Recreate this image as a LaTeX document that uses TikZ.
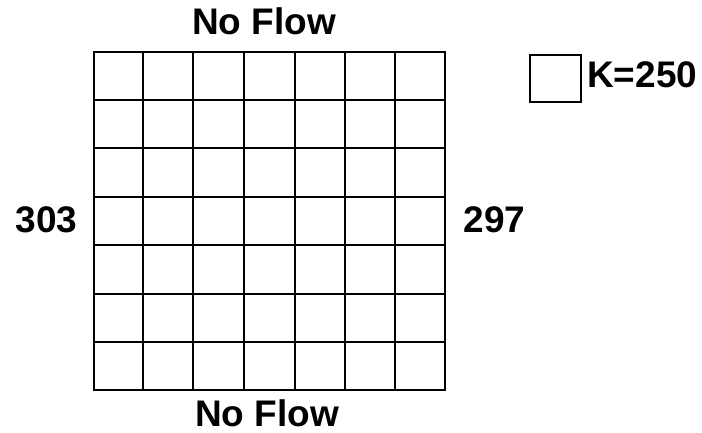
\documentclass[tikz,border=0pt]{standalone}
\usepackage{fontspec}
\setmainfont{Liberation Sans}
\usetikzlibrary{positioning, calc}

\begin{document}
\begin{tikzpicture}[x=1pt, y=1pt,
    lbl/.style={font=\fontsize{37}{40}\selectfont\bfseries, inner sep=0pt, anchor=base},
    cellline/.style={line width=2pt, black}
]
\useasboundingbox (0,0) rectangle (702,432);

% Domain (7 x 7 cells)
\node[draw, cellline, minimum width=351.5pt, minimum height=338pt, inner sep=0pt] (domain) at (269.25,211) {};
\foreach \i in {1,...,6} {
    \draw[cellline] ($(domain.north west)!\i/7!(domain.north east)$) -- ($(domain.south west)!\i/7!(domain.south east)$);
    \draw[cellline] ($(domain.north west)!\i/7!(domain.south west)$) -- ($(domain.north east)!\i/7!(domain.south east)$);
}

% Boundary labels
\node[lbl] (top) at (264,397) {No Flow};
\node[lbl] (bottom) at (267,5.5) {No Flow};
\node[lbl] (left) at (46.5,200) {303};
\node[lbl] (right) at (494.5,200) {297};

% Legend
\node[draw, line width=1.6pt, minimum width=51pt, minimum height=47pt, inner sep=0pt] (kbox) at (555.5,353.5) {};
\node[lbl, anchor=base west] (kval) at (587,344) {K=250};
\end{tikzpicture}
\end{document}
